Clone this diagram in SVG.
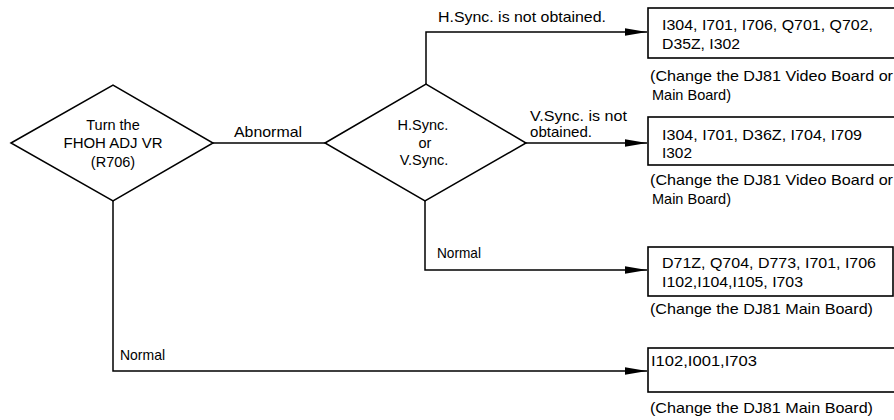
<svg xmlns="http://www.w3.org/2000/svg" width="894" height="420" viewBox="0 0 894 420">
<style>
  .t { font-family: "Liberation Sans", Arial, sans-serif; font-size: 14.5px; fill: #000; }
  .c { text-anchor: middle; }
  .ln { fill: none; stroke: #000; stroke-width: 1.5; }
  .bx { fill: #fff; stroke: #000; stroke-width: 1.6; }
  .dm { fill: #fff; stroke: #000; stroke-width: 1.5; }
</style>
<defs>
  <marker id="arr" markerUnits="userSpaceOnUse" markerWidth="24" markerHeight="10" refX="22" refY="5" orient="auto">
    <polygon points="0,1.2 22,5 0,8.8" fill="#000"/>
  </marker>
</defs>
<rect width="894" height="420" fill="#fff"/>
<g id="connectors">
  <path class="ln" d="M213,143 H325"/>
  <path class="ln" d="M426,84 V32 H647" marker-end="url(#arr)"/>
  <path class="ln" d="M526,143 H647" marker-end="url(#arr)"/>
  <path class="ln" d="M425,201 V270 H647" marker-end="url(#arr)"/>
  <path class="ln" d="M113,201 V371 H647" marker-end="url(#arr)"/>
  <text class="t" x="234" y="137" textLength="68" lengthAdjust="spacingAndGlyphs">Abnormal</text>
  <text class="t" x="438" y="22" textLength="168" lengthAdjust="spacingAndGlyphs">H.Sync. is not obtained.</text>
  <text class="t" x="530" y="121" textLength="97" lengthAdjust="spacingAndGlyphs">V.Sync. is not</text>
  <text class="t" x="530" y="137" textLength="62" lengthAdjust="spacingAndGlyphs">obtained.</text>
  <text class="t" x="437" y="258" textLength="44" lengthAdjust="spacingAndGlyphs">Normal</text>
  <text class="t" x="120" y="360" textLength="45" lengthAdjust="spacingAndGlyphs">Normal</text>
</g>
<g id="n-adjust">
  <polygon class="dm" points="11,143 113,85 213,143 113,201"/>
  <text class="t c" x="113" y="130" font-size="13">Turn the</text>
  <text class="t c" x="113" y="148" font-size="13" textLength="99" lengthAdjust="spacingAndGlyphs">FHOH ADJ VR</text>
  <text class="t c" x="113" y="167" font-size="13">(R706)</text>
</g>
<g id="n-sync">
  <polygon class="dm" points="325,143 426,84 526,143 425,201"/>
  <text class="t c" x="423" y="130">H.Sync.</text>
  <text class="t c" x="425" y="148">or</text>
  <text class="t c" x="424" y="165">V.Sync.</text>
</g>
<g id="n-hsync">
  <rect class="bx" x="648" y="8" width="260" height="50"/>
  <text class="t" x="662" y="30" textLength="211" lengthAdjust="spacingAndGlyphs">I304, I701, I706, Q701, Q702,</text>
  <text class="t" x="662" y="49" textLength="78" lengthAdjust="spacingAndGlyphs">D35Z, I302</text>
  <text class="t" x="650" y="81" textLength="243" lengthAdjust="spacingAndGlyphs">(Change the DJ81 Video Board or</text>
  <text class="t" x="652" y="100" textLength="79" lengthAdjust="spacingAndGlyphs">Main Board)</text>
</g>
<g id="n-vsync">
  <rect class="bx" x="648" y="117" width="260" height="48"/>
  <text class="t" x="662" y="140" textLength="200" lengthAdjust="spacingAndGlyphs">I304, I701, D36Z, I704, I709</text>
  <text class="t" x="662" y="158" textLength="30" lengthAdjust="spacingAndGlyphs">I302</text>
  <text class="t" x="650" y="185" textLength="243" lengthAdjust="spacingAndGlyphs">(Change the DJ81 Video Board or</text>
  <text class="t" x="652" y="204" textLength="79" lengthAdjust="spacingAndGlyphs">Main Board)</text>
</g>
<g id="n-normal1">
  <rect class="bx" x="648" y="247" width="245" height="49"/>
  <text class="t" x="662" y="268" textLength="214" lengthAdjust="spacingAndGlyphs">D71Z, Q704, D773, I701, I706</text>
  <text class="t" x="662" y="287" textLength="141" lengthAdjust="spacingAndGlyphs">I102,I104,I105, I703</text>
  <text class="t" x="650" y="314" textLength="223" lengthAdjust="spacingAndGlyphs">(Change the DJ81 Main Board)</text>
</g>
<g id="n-normal2">
  <rect class="bx" x="648" y="348" width="260" height="44"/>
  <text class="t" x="651" y="366" textLength="106" lengthAdjust="spacingAndGlyphs">I102,I001,I703</text>
  <text class="t" x="650" y="413" textLength="223" lengthAdjust="spacingAndGlyphs">(Change the DJ81 Main Board)</text>
</g>
</svg>
